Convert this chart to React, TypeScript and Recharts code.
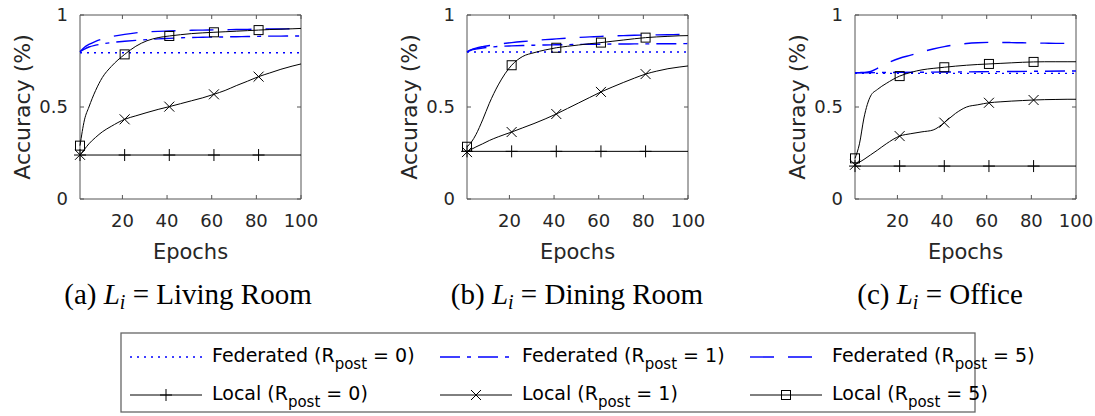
import { Line, LineChart, ReferenceArea, XAxis, YAxis } from "recharts";

// epochs sampled along each curve; markers only drawn at MARKER_EPOCHS
const EPOCHS = [1, 3, 5, 8, 11, 15, 21, 26, 31, 36, 41, 46, 51, 56, 61, 66, 71, 76, 81, 86, 91, 96, 100];
const EPOCHS_COARSE = [1, 21, 41, 61, 81, 100];
const MARKER_EPOCHS = [1, 21, 41, 61, 81];

const X_TICKS = [20, 40, 60, 80, 100];
const Y_TICKS = [0, 0.5, 1];

// (a) Living Room
const livingFed0 = [0.795, 0.795, 0.795, 0.795, 0.795, 0.795];
const livingFed1 = [0.8, 0.815, 0.826, 0.836, 0.843, 0.85, 0.857, 0.862, 0.866, 0.87, 0.873, 0.876, 0.878, 0.879, 0.88, 0.881, 0.882, 0.883, 0.884, 0.885, 0.885, 0.886, 0.886];
const livingFed5 = [0.8, 0.825, 0.84, 0.857, 0.87, 0.882, 0.895, 0.903, 0.908, 0.911, 0.913, 0.915, 0.917, 0.918, 0.919, 0.92, 0.921, 0.922, 0.923, 0.924, 0.924, 0.925, 0.925];
const livingLocal0 = [0.239, 0.239, 0.239, 0.239, 0.239, 0.239];
const livingLocal1 = [0.24, 0.27, 0.3, 0.335, 0.365, 0.395, 0.433, 0.452, 0.47, 0.487, 0.502, 0.518, 0.534, 0.55, 0.569, 0.59, 0.616, 0.64, 0.665, 0.685, 0.705, 0.722, 0.734];
const livingLocal5 = [0.29, 0.43, 0.5, 0.59, 0.66, 0.72, 0.786, 0.83, 0.86, 0.877, 0.886, 0.893, 0.899, 0.903, 0.906, 0.909, 0.912, 0.915, 0.918, 0.921, 0.923, 0.925, 0.927];

// (b) Dining Room
const diningFed0 = [0.799, 0.799, 0.799, 0.799, 0.799, 0.799];
const diningFed1 = [0.8, 0.81, 0.815, 0.821, 0.825, 0.829, 0.832, 0.834, 0.836, 0.837, 0.838, 0.839, 0.84, 0.841, 0.841, 0.842, 0.842, 0.843, 0.843, 0.844, 0.844, 0.844, 0.845];
const diningFed5 = [0.8, 0.812, 0.82, 0.828, 0.834, 0.841, 0.85, 0.856, 0.861, 0.866, 0.87, 0.874, 0.878, 0.881, 0.884, 0.886, 0.888, 0.89, 0.891, 0.892, 0.893, 0.894, 0.895];
const diningLocal0 = [0.259, 0.259, 0.259, 0.259, 0.259, 0.259];
const diningLocal1 = [0.255, 0.27, 0.283, 0.3, 0.318, 0.338, 0.364, 0.387, 0.41, 0.435, 0.462, 0.492, 0.522, 0.552, 0.582, 0.608, 0.633, 0.657, 0.679, 0.695, 0.708, 0.717, 0.723];
const diningLocal5 = [0.284, 0.31, 0.35, 0.43, 0.52, 0.62, 0.727, 0.775, 0.795, 0.81, 0.822, 0.83, 0.837, 0.844, 0.85, 0.857, 0.864, 0.871, 0.877, 0.881, 0.884, 0.887, 0.888];

// (c) Office
const officeFed0 = [0.683, 0.683, 0.683, 0.683, 0.683, 0.683];
const officeFed1 = [0.686, 0.688, 0.69, 0.692, 0.694, 0.696];
const officeFed5 = [0.686, 0.687, 0.688, 0.693, 0.71, 0.735, 0.765, 0.782, 0.8, 0.815, 0.828, 0.838, 0.845, 0.849, 0.851, 0.851, 0.85, 0.849, 0.848, 0.847, 0.846, 0.846, 0.846];
const officeLocal0 = [0.179, 0.179, 0.179, 0.179, 0.179, 0.179];
const officeLocal1 = [0.186, 0.2, 0.215, 0.24, 0.265, 0.3, 0.342, 0.355, 0.365, 0.375, 0.415, 0.465, 0.5, 0.512, 0.523, 0.528, 0.532, 0.535, 0.538, 0.54, 0.541, 0.542, 0.542];
const officeLocal5 = [0.221, 0.3, 0.44, 0.56, 0.595, 0.628, 0.668, 0.688, 0.702, 0.71, 0.716, 0.722, 0.727, 0.731, 0.734, 0.737, 0.74, 0.743, 0.745, 0.746, 0.746, 0.746, 0.746];

type Marker = "plus" | "cross" | "square" | null;

const BLUE = "#0000ff";
const SERIES: { key: string; label: string; r: number; color: string; dash?: string; width: number; marker: Marker }[] = [
  { key: "fed0", label: "Federated", r: 0, color: BLUE, dash: "2 5", width: 1.4, marker: null },
  { key: "fed1", label: "Federated", r: 1, color: BLUE, dash: "20 7 4 7", width: 1.4, marker: null },
  { key: "fed5", label: "Federated", r: 5, color: BLUE, dash: "24 14", width: 1.4, marker: null },
  { key: "local0", label: "Local", r: 0, color: "#000", width: 1, marker: "plus" },
  { key: "local1", label: "Local", r: 1, color: "#000", width: 1, marker: "cross" },
  { key: "local5", label: "Local", r: 5, color: "#000", width: 1, marker: "square" },
];

const PANELS = [
  {
    tag: "(a)", room: "Living Room", plotLeft: 80, captionX: 188,
    series: {
      fed0: [EPOCHS_COARSE, livingFed0], fed1: [EPOCHS, livingFed1], fed5: [EPOCHS, livingFed5],
      local0: [EPOCHS_COARSE, livingLocal0], local1: [EPOCHS, livingLocal1], local5: [EPOCHS, livingLocal5],
    },
  },
  {
    tag: "(b)", room: "Dining Room", plotLeft: 467, captionX: 577,
    series: {
      fed0: [EPOCHS_COARSE, diningFed0], fed1: [EPOCHS, diningFed1], fed5: [EPOCHS, diningFed5],
      local0: [EPOCHS_COARSE, diningLocal0], local1: [EPOCHS, diningLocal1], local5: [EPOCHS, diningLocal5],
    },
  },
  {
    tag: "(c)", room: "Office", plotLeft: 855, captionX: 940,
    series: {
      fed0: [EPOCHS_COARSE, officeFed0], fed1: [EPOCHS_COARSE, officeFed1], fed5: [EPOCHS, officeFed5],
      local0: [EPOCHS_COARSE, officeLocal0], local1: [EPOCHS, officeLocal1], local5: [EPOCHS, officeLocal5],
    },
  },
] as { tag: string; room: string; plotLeft: number; captionX: number; series: Record<string, [number[], number[]]> }[];

const AXIS_W = 80;
const PLOT_W = 221;
const PLOT_H = 184;
const TOP = 15;
const RIGHT = 18;
const XAXIS_H = 65;
const TEXT = "#262626";
const SANS = "DejaVu Sans";

const toPoints = (xs: number[], ys: number[]) => xs.map((epoch, i) => ({ epoch, acc: ys[i] }));

function MarkerShape({ kind, cx, cy }: { kind: Marker; cx: number; cy: number }) {
  if (kind === "plus")
    return (
      <path d={`M${cx - 6},${cy}H${cx + 6}M${cx},${cy - 6}V${cy + 6}`} stroke="#000" strokeWidth={1} fill="none" />
    );
  if (kind === "cross")
    return (
      <path d={`M${cx - 5},${cy - 5}L${cx + 5},${cy + 5}M${cx - 5},${cy + 5}L${cx + 5},${cy - 5}`} stroke="#000" strokeWidth={1} fill="none" />
    );
  if (kind === "square")
    return <rect x={cx - 4.5} y={cy - 4.5} width={9} height={9} stroke="#000" strokeWidth={1} fill="none" />;
  return null;
}

const makeDot = (kind: Marker) => (props: any) => {
  const { cx, cy, payload, index } = props;
  if (!MARKER_EPOCHS.includes(payload?.epoch)) return <g key={`e${index}`} />;
  return (
    <g key={`m${index}`}>
      <MarkerShape kind={kind} cx={cx} cy={cy} />
    </g>
  );
};

const XTick = (props: any) => {
  const { x, y, payload } = props;
  return (
    <g>
      <line x1={x} y1={y} x2={x} y2={y - 4} stroke="#555" />
      <line x1={x} y1={TOP} x2={x} y2={TOP + 4} stroke="#555" />
      <text x={x} y={y + 28} textAnchor="middle" fontSize={18} fontFamily={SANS} fill={TEXT}>
        {payload.value}
      </text>
    </g>
  );
};

const YTick = (props: any) => {
  const { x, y, payload } = props;
  return (
    <g>
      <line x1={x} y1={y} x2={x + 4} y2={y} stroke="#555" />
      <line x1={x + PLOT_W} y1={y} x2={x + PLOT_W - 4} y2={y} stroke="#555" />
      <text x={x - 12} y={y} dy="0.36em" textAnchor="end" fontSize={18} fontFamily={SANS} fill={TEXT}>
        {String(payload.value)}
      </text>
    </g>
  );
};

function Panel({ panel }: { panel: (typeof PANELS)[number] }) {
  return (
    <div style={{ position: "absolute", left: panel.plotLeft - AXIS_W, top: 0 }}>
      <LineChart
        width={AXIS_W + PLOT_W + RIGHT}
        height={TOP + PLOT_H + XAXIS_H}
        margin={{ top: TOP, right: RIGHT, bottom: 0, left: 0 }}
      >
        <XAxis
          dataKey="epoch"
          type="number"
          domain={[1, 100]}
          ticks={X_TICKS}
          interval={0}
          height={XAXIS_H}
          axisLine={false}
          tickLine={false}
          tickSize={0}
          tickMargin={0}
          tick={XTick}
          label={{
            content: ({ viewBox }: any) => (
              <text x={viewBox.x + viewBox.width / 2} y={viewBox.y + 60} textAnchor="middle" fontSize={21} fontFamily={SANS} fill={TEXT}>
                Epochs
              </text>
            ),
          }}
        />
        <YAxis
          type="number"
          domain={[0, 1]}
          ticks={Y_TICKS}
          interval={0}
          width={AXIS_W}
          axisLine={false}
          tickLine={false}
          tickSize={0}
          tickMargin={0}
          tick={YTick}
          label={{
            content: ({ viewBox }: any) => {
              const cx = viewBox.x + viewBox.width - 58;
              const cy = viewBox.y + viewBox.height / 2;
              return (
                <text x={cx} y={cy} dy="0.36em" transform={`rotate(-90, ${cx}, ${cy})`} textAnchor="middle" fontSize={22} fontFamily={SANS} fill={TEXT}>
                  Accuracy (%)
                </text>
              );
            },
          }}
        />
        <ReferenceArea x1={1} x2={100} y1={0} y2={1} fill="none" stroke="#555" strokeWidth={1} />
        {SERIES.map((s) => {
          const [xs, ys] = panel.series[s.key];
          return (
            <Line
              key={s.key}
              data={toPoints(xs, ys)}
              dataKey="acc"
              type="monotone"
              stroke={s.color}
              strokeWidth={s.width}
              strokeDasharray={s.dash}
              dot={s.marker ? makeDot(s.marker) : false}
              activeDot={false}
              isAnimationActive={false}
            />
          );
        })}
      </LineChart>
    </div>
  );
}

function LegendRow({ s, index }: { s: (typeof SERIES)[number]; index: number }) {
  const col = index % 3;
  const row = index < 3 ? 0 : 1;
  const x0 = 130 + col * 310;
  const y = row === 0 ? 357 : 395;
  return (
    <g>
      <line x1={x0} y1={y} x2={x0 + 72} y2={y} stroke={s.color} strokeWidth={s.width} strokeDasharray={s.dash} />
      <MarkerShape kind={s.marker} cx={x0 + 36} cy={y} />
      <text x={x0 + 82} y={y + 5} fontSize={19} fontFamily={SANS} fill="#000">
        {`${s.label} (R`}
        <tspan fontSize={15} dy={7}>post</tspan>
        <tspan dy={-7}>{` = ${s.r})`}</tspan>
      </text>
    </g>
  );
}

export default function App() {
  return (
    <div style={{ position: "absolute", left: 0, top: 0, width: 1095, height: 416, background: "#fff", overflow: "hidden" }}>
      {PANELS.map((p) => (
        <Panel key={p.tag} panel={p} />
      ))}
      <svg width={1095} height={416} style={{ position: "absolute", left: 0, top: 0, pointerEvents: "none" }}>
        {PANELS.map((p) => (
          <text key={p.tag} x={p.captionX} y={304} textAnchor="middle" fontSize={29} fontFamily="Liberation Serif" fill="#000">
            {`${p.tag} `}
            <tspan fontStyle="italic">L</tspan>
            <tspan fontStyle="italic" fontSize={20} dy={5}>i</tspan>
            <tspan dy={-5}>{` = ${p.room}`}</tspan>
          </text>
        ))}
        <rect x={121} y={333} width={854} height={79} fill="none" stroke="#666" strokeWidth={1.3} />
        {SERIES.map((s, i) => (
          <LegendRow key={s.key} s={s} index={i} />
        ))}
      </svg>
    </div>
  );
}
